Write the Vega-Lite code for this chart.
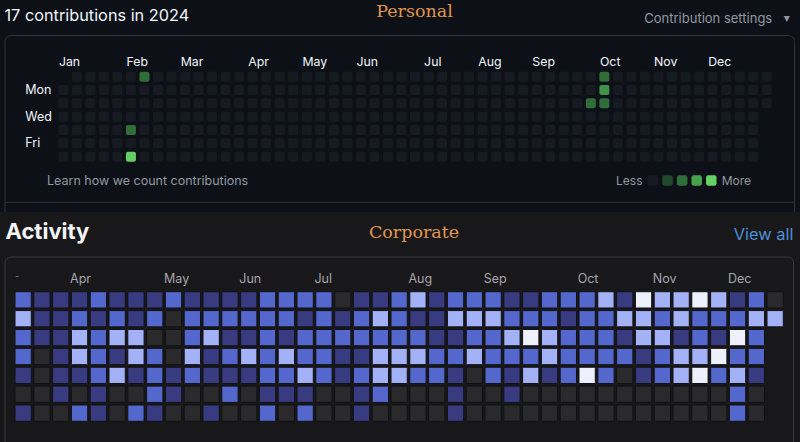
{
  "$schema": "https://vega.github.io/schema/vega-lite/v6.json",
  "background": "#0d1117",
  "padding": 0,
  "spacing": 0,
  "config": {
    "view": {"stroke": null},
    "axis": {"disable": true},
    "legend": {"disable": true},
    "text": {"font": "Inter"}
  },
  "datasets": {
    "personal": [
      {"w":0,"d":1,"v":0},{"w":0,"d":2,"v":0},{"w":0,"d":3,"v":0},{"w":0,"d":4,"v":0},{"w":0,"d":5,"v":0},{"w":0,"d":6,"v":0},
      {"w":1,"d":0,"v":0},{"w":1,"d":1,"v":0},{"w":1,"d":2,"v":0},{"w":1,"d":3,"v":0},{"w":1,"d":4,"v":0},{"w":1,"d":5,"v":0},{"w":1,"d":6,"v":0},
      {"w":2,"d":0,"v":0},{"w":2,"d":1,"v":0},{"w":2,"d":2,"v":0},{"w":2,"d":3,"v":0},{"w":2,"d":4,"v":0},{"w":2,"d":5,"v":0},{"w":2,"d":6,"v":0},
      {"w":3,"d":0,"v":0},{"w":3,"d":1,"v":0},{"w":3,"d":2,"v":0},{"w":3,"d":3,"v":0},{"w":3,"d":4,"v":0},{"w":3,"d":5,"v":0},{"w":3,"d":6,"v":0},
      {"w":4,"d":0,"v":0},{"w":4,"d":1,"v":0},{"w":4,"d":2,"v":0},{"w":4,"d":3,"v":0},{"w":4,"d":4,"v":0},{"w":4,"d":5,"v":0},{"w":4,"d":6,"v":0},
      {"w":5,"d":0,"v":0},{"w":5,"d":1,"v":0},{"w":5,"d":2,"v":0},{"w":5,"d":3,"v":0},{"w":5,"d":4,"v":2},{"w":5,"d":5,"v":0},{"w":5,"d":6,"v":4},
      {"w":6,"d":0,"v":2},{"w":6,"d":1,"v":0},{"w":6,"d":2,"v":0},{"w":6,"d":3,"v":0},{"w":6,"d":4,"v":0},{"w":6,"d":5,"v":0},{"w":6,"d":6,"v":0},
      {"w":7,"d":0,"v":0},{"w":7,"d":1,"v":0},{"w":7,"d":2,"v":0},{"w":7,"d":3,"v":0},{"w":7,"d":4,"v":0},{"w":7,"d":5,"v":0},{"w":7,"d":6,"v":0},
      {"w":8,"d":0,"v":0},{"w":8,"d":1,"v":0},{"w":8,"d":2,"v":0},{"w":8,"d":3,"v":0},{"w":8,"d":4,"v":0},{"w":8,"d":5,"v":0},{"w":8,"d":6,"v":0},
      {"w":9,"d":0,"v":0},{"w":9,"d":1,"v":0},{"w":9,"d":2,"v":0},{"w":9,"d":3,"v":0},{"w":9,"d":4,"v":0},{"w":9,"d":5,"v":0},{"w":9,"d":6,"v":0},
      {"w":10,"d":0,"v":0},{"w":10,"d":1,"v":0},{"w":10,"d":2,"v":0},{"w":10,"d":3,"v":0},{"w":10,"d":4,"v":0},{"w":10,"d":5,"v":0},{"w":10,"d":6,"v":0},
      {"w":11,"d":0,"v":0},{"w":11,"d":1,"v":0},{"w":11,"d":2,"v":0},{"w":11,"d":3,"v":0},{"w":11,"d":4,"v":0},{"w":11,"d":5,"v":0},{"w":11,"d":6,"v":0},
      {"w":12,"d":0,"v":0},{"w":12,"d":1,"v":0},{"w":12,"d":2,"v":0},{"w":12,"d":3,"v":0},{"w":12,"d":4,"v":0},{"w":12,"d":5,"v":0},{"w":12,"d":6,"v":0},
      {"w":13,"d":0,"v":0},{"w":13,"d":1,"v":0},{"w":13,"d":2,"v":0},{"w":13,"d":3,"v":0},{"w":13,"d":4,"v":0},{"w":13,"d":5,"v":0},{"w":13,"d":6,"v":0},
      {"w":14,"d":0,"v":0},{"w":14,"d":1,"v":0},{"w":14,"d":2,"v":0},{"w":14,"d":3,"v":0},{"w":14,"d":4,"v":0},{"w":14,"d":5,"v":0},{"w":14,"d":6,"v":0},
      {"w":15,"d":0,"v":0},{"w":15,"d":1,"v":0},{"w":15,"d":2,"v":0},{"w":15,"d":3,"v":0},{"w":15,"d":4,"v":0},{"w":15,"d":5,"v":0},{"w":15,"d":6,"v":0},
      {"w":16,"d":0,"v":0},{"w":16,"d":1,"v":0},{"w":16,"d":2,"v":0},{"w":16,"d":3,"v":0},{"w":16,"d":4,"v":0},{"w":16,"d":5,"v":0},{"w":16,"d":6,"v":0},
      {"w":17,"d":0,"v":0},{"w":17,"d":1,"v":0},{"w":17,"d":2,"v":0},{"w":17,"d":3,"v":0},{"w":17,"d":4,"v":0},{"w":17,"d":5,"v":0},{"w":17,"d":6,"v":0},
      {"w":18,"d":0,"v":0},{"w":18,"d":1,"v":0},{"w":18,"d":2,"v":0},{"w":18,"d":3,"v":0},{"w":18,"d":4,"v":0},{"w":18,"d":5,"v":0},{"w":18,"d":6,"v":0},
      {"w":19,"d":0,"v":0},{"w":19,"d":1,"v":0},{"w":19,"d":2,"v":0},{"w":19,"d":3,"v":0},{"w":19,"d":4,"v":0},{"w":19,"d":5,"v":0},{"w":19,"d":6,"v":0},
      {"w":20,"d":0,"v":0},{"w":20,"d":1,"v":0},{"w":20,"d":2,"v":0},{"w":20,"d":3,"v":0},{"w":20,"d":4,"v":0},{"w":20,"d":5,"v":0},{"w":20,"d":6,"v":0},
      {"w":21,"d":0,"v":0},{"w":21,"d":1,"v":0},{"w":21,"d":2,"v":0},{"w":21,"d":3,"v":0},{"w":21,"d":4,"v":0},{"w":21,"d":5,"v":0},{"w":21,"d":6,"v":0},
      {"w":22,"d":0,"v":0},{"w":22,"d":1,"v":0},{"w":22,"d":2,"v":0},{"w":22,"d":3,"v":0},{"w":22,"d":4,"v":0},{"w":22,"d":5,"v":0},{"w":22,"d":6,"v":0},
      {"w":23,"d":0,"v":0},{"w":23,"d":1,"v":0},{"w":23,"d":2,"v":0},{"w":23,"d":3,"v":0},{"w":23,"d":4,"v":0},{"w":23,"d":5,"v":0},{"w":23,"d":6,"v":0},
      {"w":24,"d":0,"v":0},{"w":24,"d":1,"v":0},{"w":24,"d":2,"v":0},{"w":24,"d":3,"v":0},{"w":24,"d":4,"v":0},{"w":24,"d":5,"v":0},{"w":24,"d":6,"v":0},
      {"w":25,"d":0,"v":0},{"w":25,"d":1,"v":0},{"w":25,"d":2,"v":0},{"w":25,"d":3,"v":0},{"w":25,"d":4,"v":0},{"w":25,"d":5,"v":0},{"w":25,"d":6,"v":0},
      {"w":26,"d":0,"v":0},{"w":26,"d":1,"v":0},{"w":26,"d":2,"v":0},{"w":26,"d":3,"v":0},{"w":26,"d":4,"v":0},{"w":26,"d":5,"v":0},{"w":26,"d":6,"v":0},
      {"w":27,"d":0,"v":0},{"w":27,"d":1,"v":0},{"w":27,"d":2,"v":0},{"w":27,"d":3,"v":0},{"w":27,"d":4,"v":0},{"w":27,"d":5,"v":0},{"w":27,"d":6,"v":0},
      {"w":28,"d":0,"v":0},{"w":28,"d":1,"v":0},{"w":28,"d":2,"v":0},{"w":28,"d":3,"v":0},{"w":28,"d":4,"v":0},{"w":28,"d":5,"v":0},{"w":28,"d":6,"v":0},
      {"w":29,"d":0,"v":0},{"w":29,"d":1,"v":0},{"w":29,"d":2,"v":0},{"w":29,"d":3,"v":0},{"w":29,"d":4,"v":0},{"w":29,"d":5,"v":0},{"w":29,"d":6,"v":0},
      {"w":30,"d":0,"v":0},{"w":30,"d":1,"v":0},{"w":30,"d":2,"v":0},{"w":30,"d":3,"v":0},{"w":30,"d":4,"v":0},{"w":30,"d":5,"v":0},{"w":30,"d":6,"v":0},
      {"w":31,"d":0,"v":0},{"w":31,"d":1,"v":0},{"w":31,"d":2,"v":0},{"w":31,"d":3,"v":0},{"w":31,"d":4,"v":0},{"w":31,"d":5,"v":0},{"w":31,"d":6,"v":0},
      {"w":32,"d":0,"v":0},{"w":32,"d":1,"v":0},{"w":32,"d":2,"v":0},{"w":32,"d":3,"v":0},{"w":32,"d":4,"v":0},{"w":32,"d":5,"v":0},{"w":32,"d":6,"v":0},
      {"w":33,"d":0,"v":0},{"w":33,"d":1,"v":0},{"w":33,"d":2,"v":0},{"w":33,"d":3,"v":0},{"w":33,"d":4,"v":0},{"w":33,"d":5,"v":0},{"w":33,"d":6,"v":0},
      {"w":34,"d":0,"v":0},{"w":34,"d":1,"v":0},{"w":34,"d":2,"v":0},{"w":34,"d":3,"v":0},{"w":34,"d":4,"v":0},{"w":34,"d":5,"v":0},{"w":34,"d":6,"v":0},
      {"w":35,"d":0,"v":0},{"w":35,"d":1,"v":0},{"w":35,"d":2,"v":0},{"w":35,"d":3,"v":0},{"w":35,"d":4,"v":0},{"w":35,"d":5,"v":0},{"w":35,"d":6,"v":0},
      {"w":36,"d":0,"v":0},{"w":36,"d":1,"v":0},{"w":36,"d":2,"v":0},{"w":36,"d":3,"v":0},{"w":36,"d":4,"v":0},{"w":36,"d":5,"v":0},{"w":36,"d":6,"v":0},
      {"w":37,"d":0,"v":0},{"w":37,"d":1,"v":0},{"w":37,"d":2,"v":0},{"w":37,"d":3,"v":0},{"w":37,"d":4,"v":0},{"w":37,"d":5,"v":0},{"w":37,"d":6,"v":0},
      {"w":38,"d":0,"v":0},{"w":38,"d":1,"v":0},{"w":38,"d":2,"v":0},{"w":38,"d":3,"v":0},{"w":38,"d":4,"v":0},{"w":38,"d":5,"v":0},{"w":38,"d":6,"v":0},
      {"w":39,"d":0,"v":0},{"w":39,"d":1,"v":0},{"w":39,"d":2,"v":2},{"w":39,"d":3,"v":0},{"w":39,"d":4,"v":0},{"w":39,"d":5,"v":0},{"w":39,"d":6,"v":0},
      {"w":40,"d":0,"v":2},{"w":40,"d":1,"v":3},{"w":40,"d":2,"v":2},{"w":40,"d":3,"v":0},{"w":40,"d":4,"v":0},{"w":40,"d":5,"v":0},{"w":40,"d":6,"v":0},
      {"w":41,"d":0,"v":0},{"w":41,"d":1,"v":0},{"w":41,"d":2,"v":0},{"w":41,"d":3,"v":0},{"w":41,"d":4,"v":0},{"w":41,"d":5,"v":0},{"w":41,"d":6,"v":0},
      {"w":42,"d":0,"v":0},{"w":42,"d":1,"v":0},{"w":42,"d":2,"v":0},{"w":42,"d":3,"v":0},{"w":42,"d":4,"v":0},{"w":42,"d":5,"v":0},{"w":42,"d":6,"v":0},
      {"w":43,"d":0,"v":0},{"w":43,"d":1,"v":0},{"w":43,"d":2,"v":0},{"w":43,"d":3,"v":0},{"w":43,"d":4,"v":0},{"w":43,"d":5,"v":0},{"w":43,"d":6,"v":0},
      {"w":44,"d":0,"v":0},{"w":44,"d":1,"v":0},{"w":44,"d":2,"v":0},{"w":44,"d":3,"v":0},{"w":44,"d":4,"v":0},{"w":44,"d":5,"v":0},{"w":44,"d":6,"v":0},
      {"w":45,"d":0,"v":0},{"w":45,"d":1,"v":0},{"w":45,"d":2,"v":0},{"w":45,"d":3,"v":0},{"w":45,"d":4,"v":0},{"w":45,"d":5,"v":0},{"w":45,"d":6,"v":0},
      {"w":46,"d":0,"v":0},{"w":46,"d":1,"v":0},{"w":46,"d":2,"v":0},{"w":46,"d":3,"v":0},{"w":46,"d":4,"v":0},{"w":46,"d":5,"v":0},{"w":46,"d":6,"v":0},
      {"w":47,"d":0,"v":0},{"w":47,"d":1,"v":0},{"w":47,"d":2,"v":0},{"w":47,"d":3,"v":0},{"w":47,"d":4,"v":0},{"w":47,"d":5,"v":0},{"w":47,"d":6,"v":0},
      {"w":48,"d":0,"v":0},{"w":48,"d":1,"v":0},{"w":48,"d":2,"v":0},{"w":48,"d":3,"v":0},{"w":48,"d":4,"v":0},{"w":48,"d":5,"v":0},{"w":48,"d":6,"v":0},
      {"w":49,"d":0,"v":0},{"w":49,"d":1,"v":0},{"w":49,"d":2,"v":0},{"w":49,"d":3,"v":0},{"w":49,"d":4,"v":0},{"w":49,"d":5,"v":0},{"w":49,"d":6,"v":0},
      {"w":50,"d":0,"v":0},{"w":50,"d":1,"v":0},{"w":50,"d":2,"v":0},{"w":50,"d":3,"v":0},{"w":50,"d":4,"v":0},{"w":50,"d":5,"v":0},{"w":50,"d":6,"v":0},
      {"w":51,"d":0,"v":0},{"w":51,"d":1,"v":0},{"w":51,"d":2,"v":0},{"w":51,"d":3,"v":0},{"w":51,"d":4,"v":0},{"w":51,"d":5,"v":0},{"w":51,"d":6,"v":0},
      {"w":52,"d":0,"v":0},{"w":52,"d":1,"v":0},{"w":52,"d":2,"v":0}
    ],
    "corporate": [
      {"c":0,"d":0,"v":2},{"c":1,"d":0,"v":1},{"c":2,"d":0,"v":1},{"c":3,"d":0,"v":1},{"c":4,"d":0,"v":2},{"c":5,"d":0,"v":1},{"c":6,"d":0,"v":1},{"c":7,"d":0,"v":1},{"c":8,"d":0,"v":2},{"c":9,"d":0,"v":1},{"c":10,"d":0,"v":1},{"c":11,"d":0,"v":1},{"c":12,"d":0,"v":1},{"c":13,"d":0,"v":2},{"c":14,"d":0,"v":2},{"c":15,"d":0,"v":2},{"c":16,"d":0,"v":2},{"c":17,"d":0,"v":0},{"c":18,"d":0,"v":1},{"c":19,"d":0,"v":1},{"c":20,"d":0,"v":2},{"c":21,"d":0,"v":3},{"c":22,"d":0,"v":1},{"c":23,"d":0,"v":2},{"c":24,"d":0,"v":2},{"c":25,"d":0,"v":2},{"c":26,"d":0,"v":1},{"c":27,"d":0,"v":1},{"c":28,"d":0,"v":2},{"c":29,"d":0,"v":2},{"c":30,"d":0,"v":2},{"c":31,"d":0,"v":3},{"c":32,"d":0,"v":1},{"c":33,"d":0,"v":4},{"c":34,"d":0,"v":3},{"c":35,"d":0,"v":3},{"c":36,"d":0,"v":4},{"c":37,"d":0,"v":3},{"c":38,"d":0,"v":1},{"c":39,"d":0,"v":2},{"c":40,"d":0,"v":0},
      {"c":0,"d":1,"v":3},{"c":1,"d":1,"v":1},{"c":2,"d":1,"v":1},{"c":3,"d":1,"v":2},{"c":4,"d":1,"v":1},{"c":5,"d":1,"v":2},{"c":6,"d":1,"v":1},{"c":7,"d":1,"v":2},{"c":8,"d":1,"v":0},{"c":9,"d":1,"v":2},{"c":10,"d":1,"v":2},{"c":11,"d":1,"v":2},{"c":12,"d":1,"v":2},{"c":13,"d":1,"v":2},{"c":14,"d":1,"v":2},{"c":15,"d":1,"v":1},{"c":16,"d":1,"v":2},{"c":17,"d":1,"v":1},{"c":18,"d":1,"v":2},{"c":19,"d":1,"v":3},{"c":20,"d":1,"v":2},{"c":21,"d":1,"v":1},{"c":22,"d":1,"v":1},{"c":23,"d":1,"v":3},{"c":24,"d":1,"v":3},{"c":25,"d":1,"v":3},{"c":26,"d":1,"v":2},{"c":27,"d":1,"v":2},{"c":28,"d":1,"v":2},{"c":29,"d":1,"v":1},{"c":30,"d":1,"v":2},{"c":31,"d":1,"v":2},{"c":32,"d":1,"v":3},{"c":33,"d":1,"v":3},{"c":34,"d":1,"v":2},{"c":35,"d":1,"v":3},{"c":36,"d":1,"v":2},{"c":37,"d":1,"v":2},{"c":38,"d":1,"v":2},{"c":39,"d":1,"v":3},{"c":40,"d":1,"v":3},
      {"c":0,"d":2,"v":2},{"c":1,"d":2,"v":1},{"c":2,"d":2,"v":1},{"c":3,"d":2,"v":3},{"c":4,"d":2,"v":2},{"c":5,"d":2,"v":3},{"c":6,"d":2,"v":3},{"c":7,"d":2,"v":0},{"c":8,"d":2,"v":0},{"c":9,"d":2,"v":2},{"c":10,"d":2,"v":3},{"c":11,"d":2,"v":1},{"c":12,"d":2,"v":1},{"c":13,"d":2,"v":2},{"c":14,"d":2,"v":1},{"c":15,"d":2,"v":2},{"c":16,"d":2,"v":2},{"c":17,"d":2,"v":2},{"c":18,"d":2,"v":2},{"c":19,"d":2,"v":2},{"c":20,"d":2,"v":2},{"c":21,"d":2,"v":2},{"c":22,"d":2,"v":1},{"c":23,"d":2,"v":1},{"c":24,"d":2,"v":2},{"c":25,"d":2,"v":2},{"c":26,"d":2,"v":3},{"c":27,"d":2,"v":4},{"c":28,"d":2,"v":3},{"c":29,"d":2,"v":2},{"c":30,"d":2,"v":2},{"c":31,"d":2,"v":2},{"c":32,"d":2,"v":1},{"c":33,"d":2,"v":3},{"c":34,"d":2,"v":3},{"c":35,"d":2,"v":1},{"c":36,"d":2,"v":2},{"c":37,"d":2,"v":1},{"c":38,"d":2,"v":4},{"c":39,"d":2,"v":2},
      {"c":0,"d":3,"v":2},{"c":1,"d":3,"v":0},{"c":2,"d":3,"v":1},{"c":3,"d":3,"v":3},{"c":4,"d":3,"v":2},{"c":5,"d":3,"v":1},{"c":6,"d":3,"v":3},{"c":7,"d":3,"v":2},{"c":8,"d":3,"v":0},{"c":9,"d":3,"v":3},{"c":10,"d":3,"v":1},{"c":11,"d":3,"v":2},{"c":12,"d":3,"v":3},{"c":13,"d":3,"v":2},{"c":14,"d":3,"v":3},{"c":15,"d":3,"v":2},{"c":16,"d":3,"v":2},{"c":17,"d":3,"v":1},{"c":18,"d":3,"v":1},{"c":19,"d":3,"v":3},{"c":20,"d":3,"v":3},{"c":21,"d":3,"v":3},{"c":22,"d":3,"v":2},{"c":23,"d":3,"v":2},{"c":24,"d":3,"v":3},{"c":25,"d":3,"v":2},{"c":26,"d":3,"v":2},{"c":27,"d":3,"v":2},{"c":28,"d":3,"v":3},{"c":29,"d":3,"v":2},{"c":30,"d":3,"v":2},{"c":31,"d":3,"v":2},{"c":32,"d":3,"v":2},{"c":33,"d":3,"v":1},{"c":34,"d":3,"v":2},{"c":35,"d":3,"v":3},{"c":36,"d":3,"v":3},{"c":37,"d":3,"v":4},{"c":38,"d":3,"v":2},{"c":39,"d":3,"v":2},
      {"c":0,"d":4,"v":1},{"c":1,"d":4,"v":0},{"c":2,"d":4,"v":1},{"c":3,"d":4,"v":1},{"c":4,"d":4,"v":2},{"c":5,"d":4,"v":3},{"c":6,"d":4,"v":1},{"c":7,"d":4,"v":2},{"c":8,"d":4,"v":1},{"c":9,"d":4,"v":2},{"c":10,"d":4,"v":1},{"c":11,"d":4,"v":1},{"c":12,"d":4,"v":1},{"c":13,"d":4,"v":2},{"c":14,"d":4,"v":2},{"c":15,"d":4,"v":3},{"c":16,"d":4,"v":2},{"c":17,"d":4,"v":1},{"c":18,"d":4,"v":2},{"c":19,"d":4,"v":3},{"c":20,"d":4,"v":3},{"c":21,"d":4,"v":2},{"c":22,"d":4,"v":2},{"c":23,"d":4,"v":1},{"c":24,"d":4,"v":0},{"c":25,"d":4,"v":2},{"c":26,"d":4,"v":1},{"c":27,"d":4,"v":3},{"c":28,"d":4,"v":1},{"c":29,"d":4,"v":2},{"c":30,"d":4,"v":4},{"c":31,"d":4,"v":2},{"c":32,"d":4,"v":0},{"c":33,"d":4,"v":1},{"c":34,"d":4,"v":2},{"c":35,"d":4,"v":3},{"c":36,"d":4,"v":4},{"c":37,"d":4,"v":2},{"c":38,"d":4,"v":3},{"c":39,"d":4,"v":1},
      {"c":0,"d":5,"v":0},{"c":1,"d":5,"v":0},{"c":2,"d":5,"v":1},{"c":3,"d":5,"v":0},{"c":4,"d":5,"v":1},{"c":5,"d":5,"v":0},{"c":6,"d":5,"v":0},{"c":7,"d":5,"v":2},{"c":8,"d":5,"v":1},{"c":9,"d":5,"v":0},{"c":10,"d":5,"v":0},{"c":11,"d":5,"v":2},{"c":12,"d":5,"v":0},{"c":13,"d":5,"v":1},{"c":14,"d":5,"v":1},{"c":15,"d":5,"v":1},{"c":16,"d":5,"v":0},{"c":17,"d":5,"v":0},{"c":18,"d":5,"v":1},{"c":19,"d":5,"v":2},{"c":20,"d":5,"v":0},{"c":21,"d":5,"v":0},{"c":22,"d":5,"v":0},{"c":23,"d":5,"v":1},{"c":24,"d":5,"v":0},{"c":25,"d":5,"v":0},{"c":26,"d":5,"v":1},{"c":27,"d":5,"v":0},{"c":28,"d":5,"v":0},{"c":29,"d":5,"v":0},{"c":30,"d":5,"v":0},{"c":31,"d":5,"v":0},{"c":32,"d":5,"v":0},{"c":33,"d":5,"v":0},{"c":34,"d":5,"v":0},{"c":35,"d":5,"v":0},{"c":36,"d":5,"v":0},{"c":37,"d":5,"v":0},{"c":38,"d":5,"v":2},{"c":39,"d":5,"v":0},
      {"c":0,"d":6,"v":1},{"c":1,"d":6,"v":0},{"c":2,"d":6,"v":0},{"c":3,"d":6,"v":2},{"c":4,"d":6,"v":1},{"c":5,"d":6,"v":0},{"c":6,"d":6,"v":2},{"c":7,"d":6,"v":1},{"c":8,"d":6,"v":0},{"c":9,"d":6,"v":0},{"c":10,"d":6,"v":1},{"c":11,"d":6,"v":0},{"c":12,"d":6,"v":0},{"c":13,"d":6,"v":2},{"c":14,"d":6,"v":0},{"c":15,"d":6,"v":2},{"c":16,"d":6,"v":0},{"c":17,"d":6,"v":0},{"c":18,"d":6,"v":1},{"c":19,"d":6,"v":0},{"c":20,"d":6,"v":0},{"c":21,"d":6,"v":0},{"c":22,"d":6,"v":0},{"c":23,"d":6,"v":1},{"c":24,"d":6,"v":0},{"c":25,"d":6,"v":0},{"c":26,"d":6,"v":0},{"c":27,"d":6,"v":0},{"c":28,"d":6,"v":0},{"c":29,"d":6,"v":0},{"c":30,"d":6,"v":0},{"c":31,"d":6,"v":0},{"c":32,"d":6,"v":0},{"c":33,"d":6,"v":0},{"c":34,"d":6,"v":0},{"c":35,"d":6,"v":0},{"c":36,"d":6,"v":0},{"c":37,"d":6,"v":0},{"c":38,"d":6,"v":2},{"c":39,"d":6,"v":0}
    ]
  },
  "vconcat": [
    {
      "width": 800,
      "height": 212,
      "layer": [
        {
          "layer": [
            {
              "data": {"values": [{}]},
              "mark": {"type": "rect", "fill": "transparent", "stroke": "#30363d", "strokeWidth": 1, "cornerRadius": 6, "clip": true},
              "encoding": {"x": {"datum": -4.3099}, "x2": {"datum": 54.055}, "y": {"datum": -3.09}, "y2": {"datum": 12.5}}
            },
            {
              "data": {"values": [{}]},
              "mark": {"type": "rule", "stroke": "#30363d", "strokeWidth": 1},
              "encoding": {"x": {"datum": -4.3099}, "x2": {"datum": 54.055}, "y": {"datum": 9.42}}
            },
            {
              "data": {"name": "personal"},
              "mark": {"type": "point", "shape": "M-0.6,-1L0.6,-1Q1,-1,1,-0.6L1,0.6Q1,1,0.6,1L-0.6,1Q-1,1,-1,0.6L-1,-0.6Q-1,-1,-0.6,-1Z", "size": 100, "filled": true, "opacity": 1, "strokeWidth": 0},
              "encoding": {
                "x": {"field": "w", "type": "quantitative", "scale": {"domain": [-4.6795, 54.4625], "nice": false, "zero": false}, "axis": null},
                "y": {"field": "d", "type": "quantitative", "scale": {"domain": [-5.7526, 10.1476], "nice": false, "zero": false, "reverse": true}, "axis": null},
                "color": {"field": "v", "type": "ordinal", "scale": {"domain": [0, 1, 2, 3, 4], "range": ["#161b22", "#21492b", "#2f6d39", "#3f9247", "#62cf62"]}, "legend": null}
              }
            },
            {
              "data": {"values": [{"m": "Jan", "w": 0}, {"m": "Feb", "w": 5}, {"m": "Mar", "w": 9}, {"m": "Apr", "w": 14}, {"m": "May", "w": 18}, {"m": "Jun", "w": 22}, {"m": "Jul", "w": 27}, {"m": "Aug", "w": 31}, {"m": "Sep", "w": 35}, {"m": "Oct", "w": 40}, {"m": "Nov", "w": 44}, {"m": "Dec", "w": 48}]},
              "mark": {"type": "text", "align": "left", "baseline": "alphabetic", "dx": -4.4, "fontSize": 12.3, "fill": "#f0f6fc"},
              "encoding": {"x": {"field": "w", "type": "quantitative"}, "y": {"datum": -0.825}, "text": {"field": "m"}}
            },
            {
              "data": {"values": [{"t": "Mon", "d": 1}, {"t": "Wed", "d": 3}, {"t": "Fri", "d": 5}]},
              "mark": {"type": "text", "align": "left", "baseline": "middle", "fontSize": 12.5, "fill": "#f0f6fc"},
              "encoding": {"x": {"datum": -2.81}, "y": {"field": "d", "type": "quantitative"}, "text": {"field": "t"}}
            },
            {
              "data": {"values": [{"t": "17 contributions in 2024"}]},
              "mark": {"type": "text", "align": "left", "baseline": "alphabetic", "fontSize": 16.3, "fill": "#f0f6fc"},
              "encoding": {"x": {"datum": -4.3469}, "y": {"datum": -4.2}, "text": {"field": "t"}}
            },
            {
              "data": {"values": [{"t": "Personal"}]},
              "mark": {"type": "text", "align": "center", "baseline": "alphabetic", "fontSize": 17.5, "font": "DejaVu Serif", "fill": "#e0964f"},
              "encoding": {"x": {"datum": 25.962}, "y": {"datum": -4.5}, "text": {"field": "t"}}
            },
            {
              "data": {"values": [{"t": "Contribution settings"}]},
              "mark": {"type": "text", "align": "right", "baseline": "alphabetic", "fontSize": 13, "fill": "#9198a1"},
              "encoding": {"x": {"datum": 52.41}, "y": {"datum": -4.005}, "text": {"field": "t"}}
            },
            {
              "data": {"values": [{"t": "▾"}]},
              "mark": {"type": "text", "align": "center", "baseline": "alphabetic", "fontSize": 12, "font": "DejaVu Sans", "fill": "#9198a1"},
              "encoding": {"x": {"datum": 53.48}, "y": {"datum": -4.1}, "text": {"field": "t"}}
            },
            {
              "data": {"values": [{"t": "Learn how we count contributions"}]},
              "mark": {"type": "text", "align": "left", "baseline": "alphabetic", "fontSize": 12.5, "fill": "#9198a1"},
              "encoding": {"x": {"datum": -1.205}, "y": {"datum": 8.1225}, "text": {"field": "t"}}
            },
            {
              "data": {"values": [{"t": "Less"}]},
              "mark": {"type": "text", "align": "right", "baseline": "alphabetic", "fontSize": 12, "fill": "#9198a1"},
              "encoding": {"x": {"datum": 42.818}, "y": {"datum": 8.1225}, "text": {"field": "t"}}
            },
            {
              "data": {"values": [{"t": "More"}]},
              "mark": {"type": "text", "align": "left", "baseline": "alphabetic", "fontSize": 12, "fill": "#9198a1"},
              "encoding": {"x": {"datum": 48.673}, "y": {"datum": 8.1225}, "text": {"field": "t"}}
            }
          ]
        },
        {
          "data": {"values": [{"v": 0}, {"v": 1}, {"v": 2}, {"v": 3}, {"v": 4}]},
          "mark": {"type": "point", "shape": "M-0.6,-1L0.6,-1Q1,-1,1,-0.6L1,0.6Q1,1,0.6,1L-0.6,1Q-1,1,-1,0.6L-1,-0.6Q-1,-1,-0.6,-1Z", "size": 110, "filled": true, "opacity": 1, "strokeWidth": 0},
          "encoding": {
            "x": {"field": "v", "type": "quantitative", "scale": {"domain": [0, 4], "range": [653, 711.3], "nice": false, "zero": false}, "axis": null},
            "y": {"datum": 7.7775, "scale": {"domain": [-5.7526, 10.1476], "nice": false, "zero": false, "reverse": true}, "axis": null},
            "color": {"field": "v", "type": "ordinal", "scale": {"domain": [0, 1, 2, 3, 4], "range": ["#161b22", "#21492b", "#2f6d39", "#46a04c", "#65d165"]}, "legend": null}
          }
        }
      ],
      "resolve": {"scale": {"x": "independent", "y": "independent", "color": "independent"}}
    },
    {
      "width": 800,
      "height": 230,
      "layer": [
        {
          "data": {"values": [{}]},
          "mark": {"type": "rect", "fill": "#18181b", "clip": true},
          "encoding": {"x": {"datum": -3}, "x2": {"datum": 43}, "y": {"datum": -6}, "y2": {"datum": 9}}
        },
        {
          "data": {"values": [{}]},
          "mark": {"type": "rect", "fill": "transparent", "stroke": "#3a3a3e", "strokeWidth": 1, "cornerRadius": 6, "clip": true},
          "encoding": {"x": {"datum": -0.9654}, "x2": {"datum": 40.976}, "y": {"datum": -2.2692}, "y2": {"datum": 8.6}}
        },
        {
          "data": {"name": "corporate"},
          "mark": {"type": "point", "shape": "M-0.88,-1L0.88,-1Q1,-1,1,-0.88L1,0.88Q1,1,0.88,1L-0.88,1Q-1,1,-1,0.88L-1,-0.88Q-1,-1,-0.88,-1Z", "size": 265, "filled": true, "opacity": 1, "stroke": "#111115", "strokeWidth": 1},
          "encoding": {
            "x": {"field": "c", "type": "quantitative", "scale": {"domain": [-1.23138, 41.3218], "nice": false, "zero": false}, "axis": null},
            "y": {"field": "d", "type": "quantitative", "scale": {"domain": [-4.6523, 7.528], "nice": false, "zero": false, "reverse": true}, "axis": null},
            "color": {"field": "v", "type": "ordinal", "scale": {"domain": [0, 1, 2, 3, 4], "range": ["#2a2a2d", "#383b80", "#5367cd", "#a3b1f6", "#eef0fc"]}, "legend": null}
          }
        },
        {
          "data": {"values": [{"m": "Apr", "c": 3}, {"m": "May", "c": 8}, {"m": "Jun", "c": 12}, {"m": "Jul", "c": 16}, {"m": "Aug", "c": 21}, {"m": "Sep", "c": 25}, {"m": "Oct", "c": 30}, {"m": "Nov", "c": 34}, {"m": "Dec", "c": 38}]},
          "mark": {"type": "text", "align": "left", "baseline": "alphabetic", "dx": -9.5, "fontSize": 12.5, "fill": "#a5a5aa"},
          "encoding": {"x": {"field": "c", "type": "quantitative"}, "y": {"datum": -0.8764}, "text": {"field": "m"}}
        },
        {
          "data": {"values": [{"t": "-"}]},
          "mark": {"type": "text", "align": "left", "baseline": "alphabetic", "fontSize": 9, "fill": "#8a8a8e"},
          "encoding": {"x": {"datum": -0.4335}, "y": {"datum": -1.104}, "text": {"field": "t"}}
        },
        {
          "data": {"values": [{"t": "Activity"}]},
          "mark": {"type": "text", "align": "left", "baseline": "alphabetic", "fontSize": 22, "fontWeight": "bold", "fill": "#f5f5f7"},
          "encoding": {"x": {"datum": -0.9388}, "y": {"datum": -3.2066}, "text": {"field": "t"}}
        },
        {
          "data": {"values": [{"t": "Corporate"}]},
          "mark": {"type": "text", "align": "center", "baseline": "alphabetic", "fontSize": 17.5, "font": "DejaVu Serif", "fill": "#e0964f"},
          "encoding": {"x": {"datum": 20.79}, "y": {"datum": -3.259}, "text": {"field": "t"}}
        },
        {
          "data": {"values": [{"t": "View all"}]},
          "mark": {"type": "text", "align": "right", "baseline": "alphabetic", "fontSize": 16.4, "fill": "#4d8fd6"},
          "encoding": {"x": {"datum": 40.976}, "y": {"datum": -3.1695}, "text": {"field": "t"}}
        }
      ]
    }
  ]
}
